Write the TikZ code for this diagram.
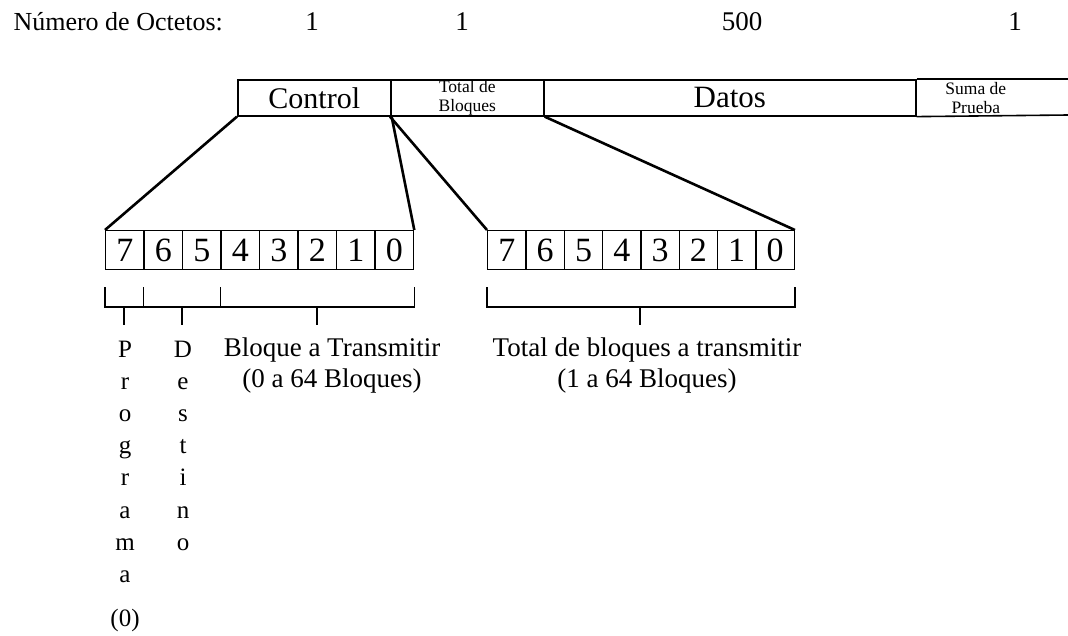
\documentclass[tikz,border=0pt]{standalone}
\usepackage{fontspec}
\setmainfont{Liberation Serif}
\usetikzlibrary{positioning}

\tikzset{campo/.style={draw,line width=1.6pt,minimum height=36pt,inner sep=0pt,anchor=north west},
  bit/.style={draw,line width=1.4pt,minimum width=38.4pt,minimum height=39pt,inner sep=0pt,anchor=north west,font=\fontsize{34}{34}\selectfont},
  corchete/.style={line width=1.4pt},
  enlace/.style={line width=2.6pt},
  abajo/.style={inner sep=0pt,anchor=base,font=\fontsize{25}{25}\selectfont},
  leyenda/.style={inner sep=0pt,anchor=base,font=\fontsize{27}{27}\selectfont}}

\begin{document}
\begin{tikzpicture}[x=1pt,y=-1pt]
\useasboundingbox (0,0) rectangle (1068,635);
\clip (0,0) rectangle (1068,635);
% encabezado
\node [anchor=west,font=\fontsize{26}{26}\selectfont] (titulo) at (10,22) {Número de Octetos:};
\node [font=\fontsize{27}{27}\selectfont] (n1) at (312,22) {1};
\node [font=\fontsize{27}{27}\selectfont] (n2) at (462,22) {1};
\node [font=\fontsize{27}{27}\selectfont] (n3) at (742,22) {500};
\node [font=\fontsize{27}{27}\selectfont] (n4) at (1015,22) {1};

% trama
\node [campo,minimum width=153pt,font=\fontsize{30}{30}\selectfont] (ctrl) at (237,79) {Control};
\node [campo,minimum width=153pt,align=center,font=\fontsize{17.5}{19.5}\selectfont] (total) at (390,79) {Total de\\Bloques};
\node [campo,minimum width=372pt,font=\fontsize{31}{31}\selectfont] (datos) at (543,79) {Datos};
\node [campo,draw=none,minimum width=120pt,align=center,font=\fontsize{17.5}{19.5}\selectfont] (suma) at (915,79) {Suma de\\Prueba};
\coordinate (finA) at (1068,79);
\coordinate (finB) at (1068,115);
\draw [line width=1.6pt] (datos.north east)--(finA);
\draw [line width=1.6pt] (datos.south east)--(finB);

% octetos
\foreach \b [count=\i from 0] in {7,6,5,4,3,2,1,0}
  \node [bit] (a\b) at (105+38.5*\i,230) {\b};
\foreach \b [count=\i from 0] in {7,6,5,4,3,2,1,0}
  \node [bit] (b\b) at (487+38.3*\i,230) {\b};

\draw [enlace] (ctrl.south west)--(a7.north west);
\draw [enlace] (ctrl.south east)--(a0.north east);
\draw [enlace] (total.south west)--(b7.north west);
\draw [enlace] (total.south east)--(b0.north east);

% corchetes
\draw [corchete] (a7.south west |- 0,287)--(a7.south west |- 0,307)--(a0.south east |- 0,307)--(a0.south east |- 0,287);
\draw [corchete] (a6.south west |- 0,287)--(a6.south west |- 0,307);
\draw [corchete] (a4.south west |- 0,287)--(a4.south west |- 0,307);
\draw [corchete] (124,307)--(124,325);
\draw [corchete] (182,307)--(182,325);
\draw [corchete] (317,307)--(317,325);
\draw [corchete] (b7.south west |- 0,287)--(b7.south west |- 0,307)--(b0.south east |- 0,307)--(b0.south east |- 0,287);
\draw [corchete] (640,307)--(640,325);

% leyendas
\foreach \l [count=\i from 0] in {P,r,o,g,r,a,m,a}
  \node [abajo] (p\i) at (125,357+32.2*\i) {\l};
\node [abajo] (p8) at (125,626) {(0)};
\foreach \l [count=\i from 0] in {D,e,s,t,i,n,o}
  \node [abajo] (d\i) at (183,357+32.2*\i) {\l};
\node [leyenda] (bloque1) at (332,356) {Bloque a Transmitir};
\node [leyenda] (bloque2) at (332,387) {(0 a 64 Bloques)};
\node [leyenda] (total1) at (647,356) {Total de bloques a transmitir};
\node [leyenda] (total2) at (647,387) {(1 a 64 Bloques)};
\end{tikzpicture}
\end{document}
